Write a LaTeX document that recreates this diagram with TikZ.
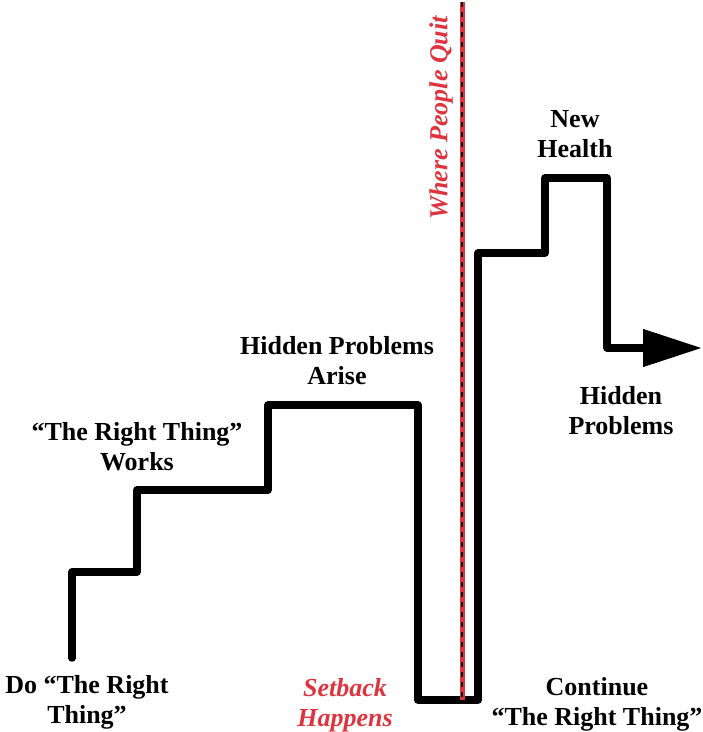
\documentclass[tikz,border=0pt]{standalone}
\usepackage{fontspec}
\setmainfont{Liberation Serif}[FakeStretch=1.0]
\usetikzlibrary{arrows.meta}
\definecolor{quitred}{RGB}{222,52,64}
\begin{document}
\begin{tikzpicture}[x=1pt,y=-1pt,
  lbl/.style={font=\fontsize{26}{30}\selectfont\bfseries, align=center, inner sep=0pt},
  redlbl/.style={lbl, text=quitred, font=\fontsize{26}{30}\selectfont\bfseries\itshape},
  stair/.style={line width=7.5pt, line join=round, line cap=round}]
\useasboundingbox (0,0) rectangle (703,732);
% staircase
\coordinate (s0) at (72,658);
\coordinate (s1) at (72,572);
\coordinate (s2) at (137,572);
\coordinate (s3) at (137,490);
\coordinate (s4) at (268,490);
\coordinate (s5) at (268,405);
\coordinate (s6) at (418,405);
\coordinate (s7) at (418,700);
\coordinate (s8) at (478,700);
\coordinate (s9) at (478,253);
\coordinate (s10) at (545,253);
\coordinate (s11) at (545,178);
\coordinate (s12) at (607,178);
\coordinate (s13) at (607,348);
\coordinate (s14) at (702,348);
\draw[stair, -{Triangle[length=59pt,width=36pt]}] (s0)--(s1)--(s2)--(s3)--(s4)--(s5)--(s6)--(s7)--(s8)--(s9)--(s10)--(s11)--(s12)--(s13)--(s14);
% quit line
\coordinate (qtop) at (462,2);
\coordinate (qbot) at (462,700);
\draw[quitred, line width=5pt] (qtop) -- (qbot);
\draw[black, line width=2.6pt, dash pattern=on 5pt off 5pt] (qtop) -- (qbot);
% labels
\node[lbl] (do) at (87,702) {Do “The Right\\Thing”};
\node[redlbl] (setback) at (345,705) {Setback\\Happens};
\node[lbl] (cont) at (597,704) {Continue\\“The Right Thing”};
\node[lbl] (works) at (137,447) {“The Right Thing”\\Works};
\node[lbl] (arise) at (337,361) {Hidden Problems\\Arise};
\node[lbl] (health) at (575,134) {New\\Health};
\node[lbl] (hidden) at (621,411) {Hidden\\Problems};
\node[redlbl, rotate=90] (quit) at (441,118) {Where People Quit};
\end{tikzpicture}
\end{document}
